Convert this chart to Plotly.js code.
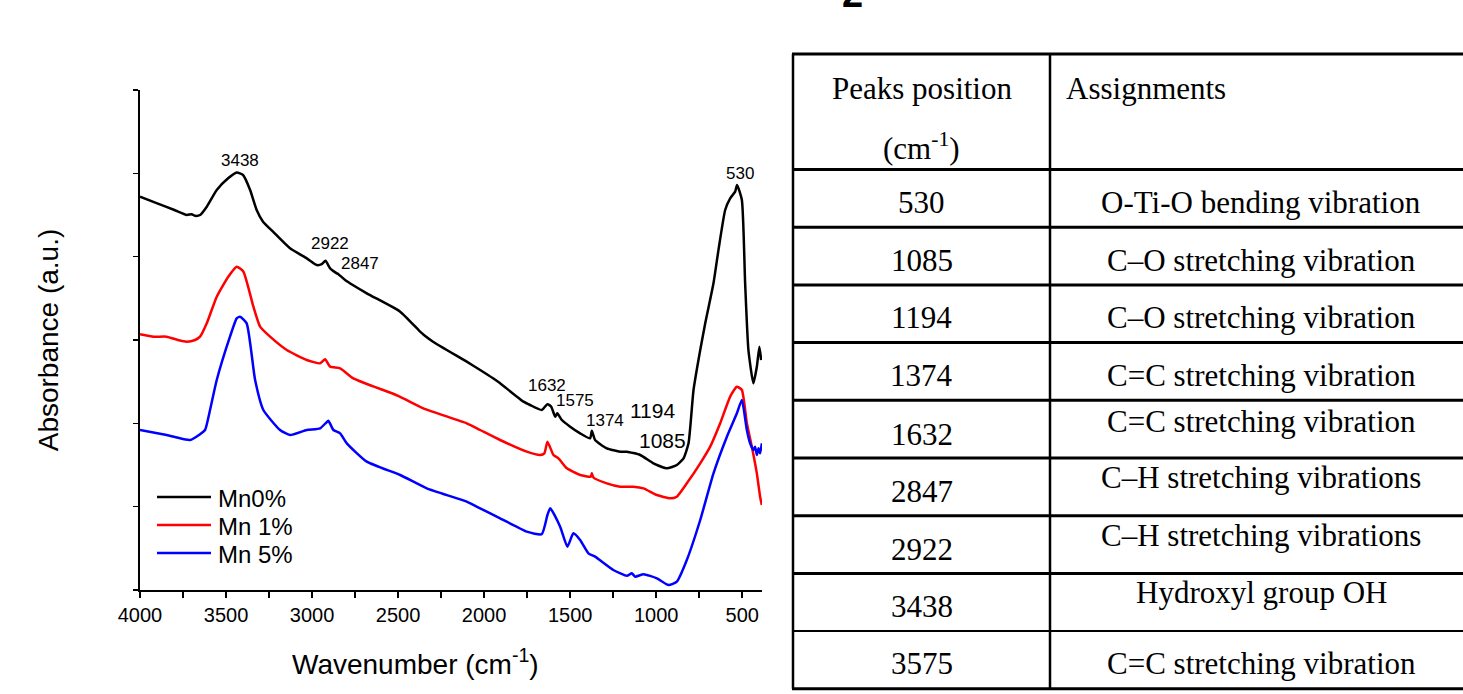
<!DOCTYPE html>
<html>
<head>
<meta charset="utf-8">
<script src="https://cdn.plot.ly/plotly-3.0.1.min.js"></script>
<style>html,body{margin:0;padding:0;background:#fff;}#chart{width:1463px;height:694px;}</style>
</head>
<body>
<div id="chart"></div>
<script>
// ---------- data ----------
const seriesNames = ['Mn0%', 'Mn 1%', 'Mn 5%'];

const wnMn0 = [4000, 3900, 3800, 3728, 3700, 3680, 3651, 3612, 3554, 3488, 3438, 3401, 3360, 3322, 3285, 3227, 3128, 3031, 2973, 2944, 2922, 2895, 2856, 2847, 2808, 2682, 2488, 2372, 2350, 2297, 2101, 2023, 1948, 1907, 1771, 1733, 1665, 1632, 1610, 1587, 1575, 1548, 1500, 1442, 1384, 1374, 1355, 1287, 1209, 1170, 1093, 1016, 938, 880, 841, 812, 783, 744, 715, 667, 638, 599, 570, 541, 530, 502, 483, 464, 435, 415, 400, 390];
const absMn0 = [4.72, 4.64, 4.56, 4.50, 4.51, 4.49, 4.50, 4.60, 4.80, 4.94, 5.01, 4.98, 4.80, 4.56, 4.42, 4.30, 4.10, 3.98, 3.90, 3.91, 3.95, 3.86, 3.80, 3.79, 3.72, 3.56, 3.34, 3.10, 3.06, 2.98, 2.74, 2.64, 2.54, 2.48, 2.26, 2.22, 2.16, 2.23, 2.20, 2.08, 2.12, 2.04, 1.96, 1.88, 1.82, 1.91, 1.80, 1.70, 1.66, 1.66, 1.62, 1.52, 1.46, 1.50, 1.58, 1.76, 2.40, 2.88, 3.20, 3.68, 4.08, 4.56, 4.70, 4.78, 4.86, 4.68, 3.68, 2.88, 2.48, 2.68, 2.92, 2.76];

const wnMn1 = [4000, 3920, 3845, 3780, 3728, 3680, 3651, 3612, 3554, 3487, 3438, 3399, 3341, 3302, 3244, 3147, 3031, 2953, 2924, 2895, 2837, 2760, 2500, 2353, 2101, 2023, 1907, 1752, 1674, 1650, 1632, 1597, 1568, 1519, 1442, 1380, 1374, 1365, 1287, 1209, 1132, 1074, 996, 919, 880, 822, 744, 686, 628, 570, 531, 502, 473, 444, 415, 396, 386];
const absMn1 = [3.07, 3.04, 3.04, 3.00, 2.98, 3.00, 3.04, 3.20, 3.52, 3.76, 3.88, 3.82, 3.40, 3.16, 3.04, 2.88, 2.76, 2.72, 2.77, 2.68, 2.66, 2.54, 2.33, 2.18, 2.00, 1.92, 1.80, 1.66, 1.62, 1.64, 1.78, 1.62, 1.58, 1.46, 1.38, 1.36, 1.40, 1.35, 1.28, 1.24, 1.24, 1.22, 1.14, 1.10, 1.12, 1.28, 1.52, 1.72, 2.00, 2.32, 2.44, 2.40, 2.00, 1.72, 1.40, 1.12, 1.02];

const wnMn5 = [4000, 3845, 3709, 3651, 3622, 3593, 3554, 3477, 3438, 3419, 3380, 3331, 3283, 3186, 3128, 3031, 2953, 2922, 2905, 2876, 2837, 2798, 2682, 2488, 2333, 2101, 2023, 1907, 1752, 1665, 1632, 1616, 1558, 1516, 1481, 1442, 1394, 1355, 1249, 1170, 1142, 1122, 1074, 996, 928, 880, 822, 744, 667, 589, 531, 502, 473, 454, 435, 425, 415, 405, 396, 386];
const absMn5 = [1.92, 1.86, 1.80, 1.87, 1.92, 2.16, 2.52, 3.04, 3.26, 3.28, 3.20, 2.52, 2.16, 1.92, 1.86, 1.92, 1.94, 2.00, 2.03, 1.92, 1.88, 1.76, 1.54, 1.38, 1.22, 1.06, 0.98, 0.86, 0.70, 0.67, 0.90, 0.98, 0.76, 0.52, 0.68, 0.60, 0.44, 0.40, 0.24, 0.17, 0.20, 0.16, 0.19, 0.14, 0.06, 0.10, 0.36, 0.84, 1.40, 1.84, 2.12, 2.28, 1.92, 1.76, 1.68, 1.72, 1.62, 1.70, 1.64, 1.76];

// peak labels on the Mn0% curve
const peakLabels = ['3438', '2922', '2847', '1632', '1575', '1374', '1194', '1085', '530'];
const peakLabelX = [3419, 2895, 2721, 1634, 1471, 1297, 1023, 965, 512];
const peakLabelY = [5.16, 4.16, 3.92, 2.46, 2.27, 2.04, 2.16, 1.80, 5.00];

// table
const tableHeader1 = ['Peaks position', '(cm<sup>-1</sup>)'];
const tableHeader2 = 'Assignments';
const tablePeaks = ['530', '1085', '1194', '1374', '1632', '2847', '2922', '3438', '3575'];
const tableAssign = ['O-Ti-O bending vibration', 'C–O stretching vibration', 'C–O stretching vibration',
  'C=C stretching vibration', 'C=C stretching vibration', 'C–H stretching vibrations',
  'C–H stretching vibrations', 'Hydroxyl group OH', 'C=C stretching vibration'];

// ---------- layout helpers (pixel -> paper) ----------
const ML = 140, MR = 701, MT = 90, MB = 104, W = 1463, H = 694;
const PW = W - ML - MR, PH = H - MT - MB;
const px = x => (x - ML) / PW;
const py = y => (H - MB - y) / PH;

const colors = ['#000000', '#ff0000', '#0000ff'];
const wns = [wnMn0, wnMn1, wnMn5];
const abss = [absMn0, absMn1, absMn5];

const traces = seriesNames.map((n, i) => ({
  type: 'scatter', mode: 'lines', name: n,
  x: wns[i], y: abss[i],
  line: {color: colors[i], width: 2.5, shape: 'spline', smoothing: 0.5},
  cliponaxis: false, showlegend: false
}));

const sans = 'Liberation Sans, Arial, sans-serif';
const serif = 'Liberation Serif, Times New Roman, serif';

const annotations = [];
const shapes = [];

peakLabels.forEach((t, i) => {
  const big = (t === '1194' || t === '1085');
  annotations.push({
    x: peakLabelX[i], y: peakLabelY[i], xref: 'x', yref: 'y', text: t, showarrow: false,
    font: {family: sans, size: big ? 21 : 17, color: '#000'}, xanchor: 'center', yanchor: 'middle'
  });
});

// legend (line sample + label for each series)
const legTop = 497, legStep = 28;
seriesNames.forEach((n, i) => {
  const y = legTop + i * legStep;
  shapes.push({type: 'line', xref: 'paper', yref: 'paper', x0: px(157), x1: px(211), y0: py(y), y1: py(y), line: {color: colors[i], width: 2.5}});
  annotations.push({x: px(216), y: py(y + 1), xref: 'paper', yref: 'paper', showarrow: false, text: n,
    font: {family: sans, size: 24, color: '#000'}, xanchor: 'left', yanchor: 'middle'});
});

// x-axis title
annotations.push({
  x: px(415), y: py(662), xref: 'paper', yref: 'paper', showarrow: false,
  text: 'Wavenumber (cm<sup>-1</sup>)', font: {family: sans, size: 28, color: '#000'},
  xanchor: 'center', yanchor: 'middle'
});

// stray bold "2" cut at top
annotations.push({
  x: px(852), y: py(17), xref: 'paper', yref: 'paper', showarrow: false,
  text: '<b>2</b>', font: {family: sans, size: 38, color: '#000'},
  xanchor: 'center', yanchor: 'bottom'
});

// table geometry
const tLeft = 793, tDiv = 1050, tRight = 1475, tTop = 54, tHeadBot = 169.5, rowH = 57.7;
const nRows = tablePeaks.length;
const tBottom = tHeadBot + rowH * nRows;
const hl = (y, w) => shapes.push({type: 'line', xref: 'paper', yref: 'paper', x0: px(tLeft - 1), x1: px(tRight), y0: py(y), y1: py(y), line: {color: '#000', width: w}});
hl(tTop, 3);
hl(tHeadBot, 3);
for (let k = 1; k <= nRows; k++) hl(tHeadBot + rowH * k, k === nRows - 1 ? 2 : 3);
[tLeft, tDiv].forEach(x => shapes.push({type: 'line', xref: 'paper', yref: 'paper', x0: px(x), x1: px(x), y0: py(tTop), y1: py(tBottom), line: {color: '#000', width: 2.5}}));

const c1 = (tLeft + tDiv) / 2, c2 = 1261;
const tf = {family: serif, size: 31, color: '#000'};
annotations.push({x: px(c1), y: py(88), xref: 'paper', yref: 'paper', showarrow: false, text: tableHeader1[0], font: tf, xanchor: 'center', yanchor: 'middle'});
annotations.push({x: px(c1), y: py(146), xref: 'paper', yref: 'paper', showarrow: false, text: tableHeader1[1], font: tf, xanchor: 'center', yanchor: 'middle'});
annotations.push({x: px(1064), y: py(88), xref: 'paper', yref: 'paper', showarrow: false, text: tableHeader2, font: tf, xanchor: 'left', yanchor: 'middle'});
// vertical offsets of the text inside each row (as laid out in the source table)
const numOff = [4, 4, 4, 4, 5, 5, 5, 4, 4];
const txtOff = [4, 4, 4, 4, -8, -9, -9, -10, 4];
for (let i = 0; i < nRows; i++) {
  const cy = tHeadBot + rowH * (i + 0.5);
  annotations.push({x: px(c1), y: py(cy + numOff[i]), xref: 'paper', yref: 'paper', showarrow: false, text: tablePeaks[i], font: tf, xanchor: 'center', yanchor: 'middle'});
  annotations.push({x: px(c2), y: py(cy + txtOff[i]), xref: 'paper', yref: 'paper', showarrow: false, text: tableAssign[i], font: tf, xanchor: 'center', yanchor: 'middle'});
}

const layout = {
  width: W, height: H,
  margin: {l: ML, r: MR, t: MT, b: MB, pad: 0},
  paper_bgcolor: '#fff', plot_bgcolor: '#fff',
  showlegend: false,
  xaxis: {
    range: [4000, 385], autorange: false,
    showline: true, linecolor: '#000', linewidth: 2,
    ticks: 'outside', ticklen: 6, tickwidth: 2, tickcolor: '#000',
    tick0: 0, dtick: 500,
    minor: {dtick: 250, ticks: 'outside', ticklen: 6, tickwidth: 2, tickcolor: '#000'},
    tickfont: {family: sans, size: 20, color: '#000'},
    showgrid: false, zeroline: false, automargin: false
  },
  yaxis: {
    range: [0, 6], autorange: false,
    showline: true, linecolor: '#000', linewidth: 2,
    ticks: 'outside', ticklen: 5, tickwidth: 1.5, tickcolor: '#000',
    tick0: 0, dtick: 1, showticklabels: false,
    showgrid: false, zeroline: false, automargin: false,
    title: {text: 'Absorbance (a.u.)', font: {family: sans, size: 28, color: '#000'}, standoff: 66}
  },
  annotations: annotations,
  shapes: shapes
};

Plotly.newPlot('chart', traces, layout, {displayModeBar: false, staticPlot: true});
</script>
</body>
</html>
